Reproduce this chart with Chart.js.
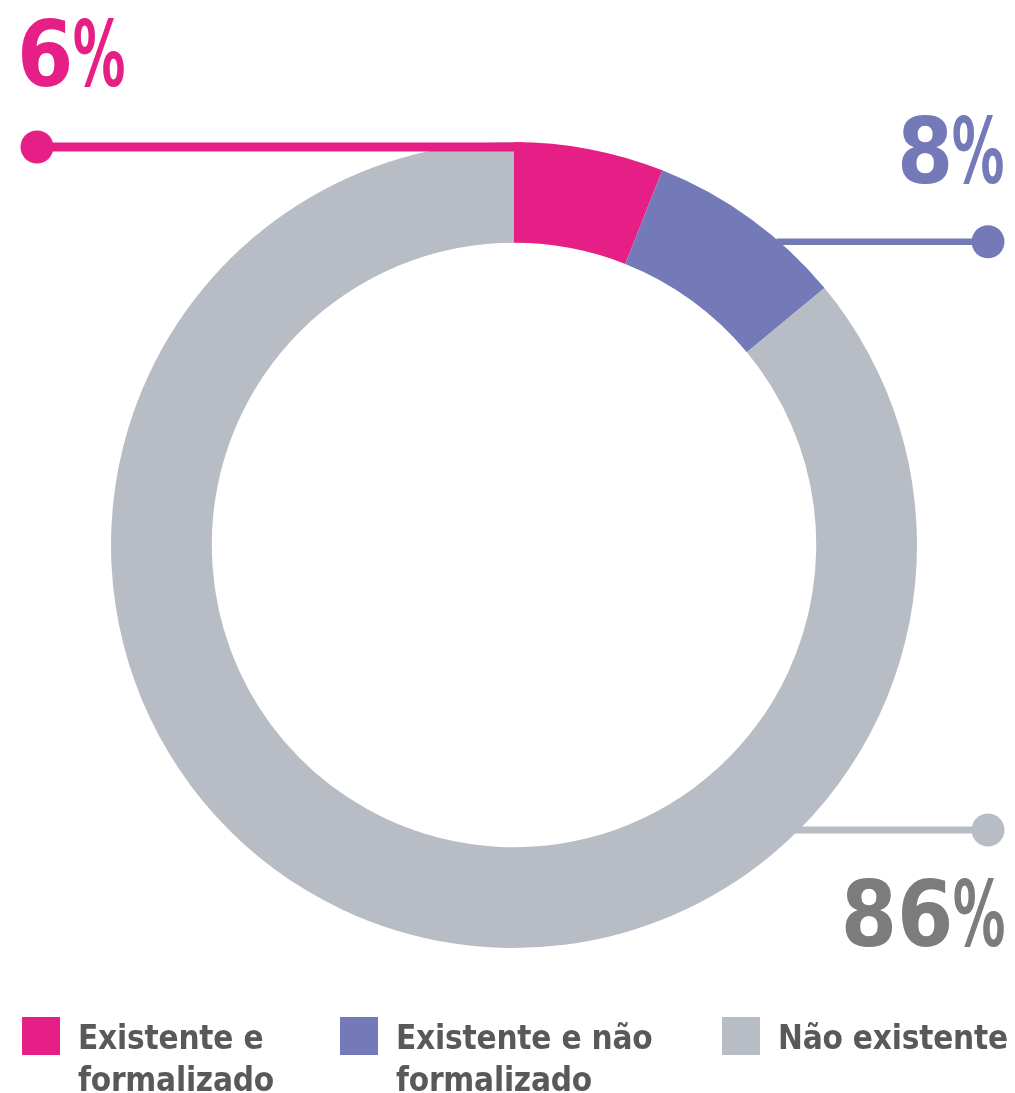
<!DOCTYPE html>
<html>
<head>
<meta charset="utf-8">
<script src="https://cdn.jsdelivr.net/npm/chart.js@4"></script>
<style>
  html, body { margin: 0; padding: 0; background: #ffffff; }
  #wrap { position: relative; width: 1015px; height: 1093px; overflow: hidden; }
  #c { position: absolute; left: 0; top: 0; }
  #legend { position: absolute; left: 0; top: 1015px; width: 1015px; height: 78px; }
  .item { position: absolute; top: 0; }
  .sw { position: absolute; left: 0; top: 2px; width: 38px; height: 38px; }
  .tx { position: absolute; left: 56px; top: 2px; font-family: "DejaVu Sans Condensed", "DejaVu Sans", sans-serif; font-weight: bold; font-size: 33px; line-height: 42px; color: #58595b; white-space: normal; letter-spacing: -0.2px; }
</style>
</head>
<body>
<div id="wrap">
  <canvas id="c" width="1015" height="1093"></canvas>
  <div id="legend"></div>
</div>
<script>
const categories = ["Existente e formalizado", "Existente e não formalizado", "Não existente"];
const values = [6, 8, 86];
const colors = ["#e61f86", "#7479b8", "#b8bcc5"];
const labelColors = ["#e61f86", "#7479b8", "#7b7c7e"];
const legendX = [22, 340, 722];
const legendW = [240, 300, 290];

// HTML legend
const leg = document.getElementById('legend');
categories.forEach((c, i) => {
  const it = document.createElement('div');
  it.className = 'item';
  it.style.left = legendX[i] + 'px';
  it.innerHTML = '<div class="sw" style="background:' + colors[i] + '"></div><div class="tx" style="width:' + legendW[i] + 'px">' + c + '</div>';
  leg.appendChild(it);
});

// draw "<number>%" with the number at natural width and a narrower percent sign
function pctLabel(ctx, num, anchorX, baseline, alignRight) {
  const numStr = String(num);
  const mN = ctx.measureText(numStr);
  const wN = mN.actualBoundingBoxLeft + mN.actualBoundingBoxRight;
  const mP = ctx.measureText('%');
  const wP = mP.actualBoundingBoxLeft + mP.actualBoundingBoxRight;
  const pctW = 50, gap = 4;
  const total = wN + gap + pctW;
  const left = alignRight ? anchorX - total : anchorX;
  ctx.textAlign = 'left';
  ctx.fillText(numStr, left + mN.actualBoundingBoxLeft, baseline);
  ctx.save();
  ctx.translate(left + wN + gap, baseline);
  ctx.scale(pctW / wP, 1);
  ctx.fillText('%', mP.actualBoundingBoxLeft, 0);
  ctx.restore();
}

const leaders = {
  id: 'leaders',
  afterDatasetsDraw(chart) {
    const ctx = chart.ctx;
    const arcs = chart.getDatasetMeta(0).data;
    const a0 = arcs[0];
    const cx = a0.x, cy = a0.y, R = a0.outerRadius, r = a0.innerRadius;
    const dotR = 16.5;
    ctx.save();
    ctx.lineCap = 'butt';
    // pink: left leader along top of ring
    let y = cy - R + 5;
    ctx.strokeStyle = colors[0]; ctx.fillStyle = colors[0]; ctx.lineWidth = 9;
    ctx.beginPath(); ctx.moveTo(37, y); ctx.lineTo(cx + 10, y); ctx.stroke();
    ctx.beginPath(); ctx.arc(37, y, dotR, 0, Math.PI * 2); ctx.fill();
    // purple: right leader
    y = cy - r - 1;
    let xs = cx + Math.sqrt(R * R - (y - cy) * (y - cy)) - 3;
    ctx.strokeStyle = colors[1]; ctx.fillStyle = colors[1]; ctx.lineWidth = 6.5;
    ctx.beginPath(); ctx.moveTo(xs, y); ctx.lineTo(988, y); ctx.stroke();
    ctx.beginPath(); ctx.arc(988, y, dotR, 0, Math.PI * 2); ctx.fill();
    // gray: right leader
    y = cy + 285;
    xs = cx + Math.sqrt(R * R - (y - cy) * (y - cy)) - 5;
    ctx.strokeStyle = colors[2]; ctx.fillStyle = colors[2]; ctx.lineWidth = 7;
    ctx.beginPath(); ctx.moveTo(xs, y); ctx.lineTo(988, y); ctx.stroke();
    ctx.beginPath(); ctx.arc(988, y, dotR, 0, Math.PI * 2); ctx.fill();
    // labels
    ctx.font = 'bold 90px "DejaVu Sans Condensed", "DejaVu Sans", sans-serif';
    ctx.textBaseline = 'alphabetic';
    ctx.fillStyle = labelColors[0];
    pctLabel(ctx, values[0], 22, 86, false);
    ctx.fillStyle = labelColors[1];
    pctLabel(ctx, values[1], 1003, 183, true);
    ctx.fillStyle = labelColors[2];
    pctLabel(ctx, values[2], 1004, 946, true);
    ctx.restore();
  }
};

new Chart(document.getElementById('c'), {
  type: 'doughnut',
  data: {
    labels: categories,
    datasets: [{
      data: values,
      backgroundColor: colors,
      borderWidth: 0,
      hoverOffset: 0
    }]
  },
  options: {
    responsive: false,
    animation: false,
    cutout: '75%',
    layout: { padding: { left: 111, right: 98, top: 142, bottom: 145 } },
    plugins: { legend: { display: false }, tooltip: { enabled: false } },
    events: []
  },
  plugins: [leaders]
});
</script>
</body>
</html>
